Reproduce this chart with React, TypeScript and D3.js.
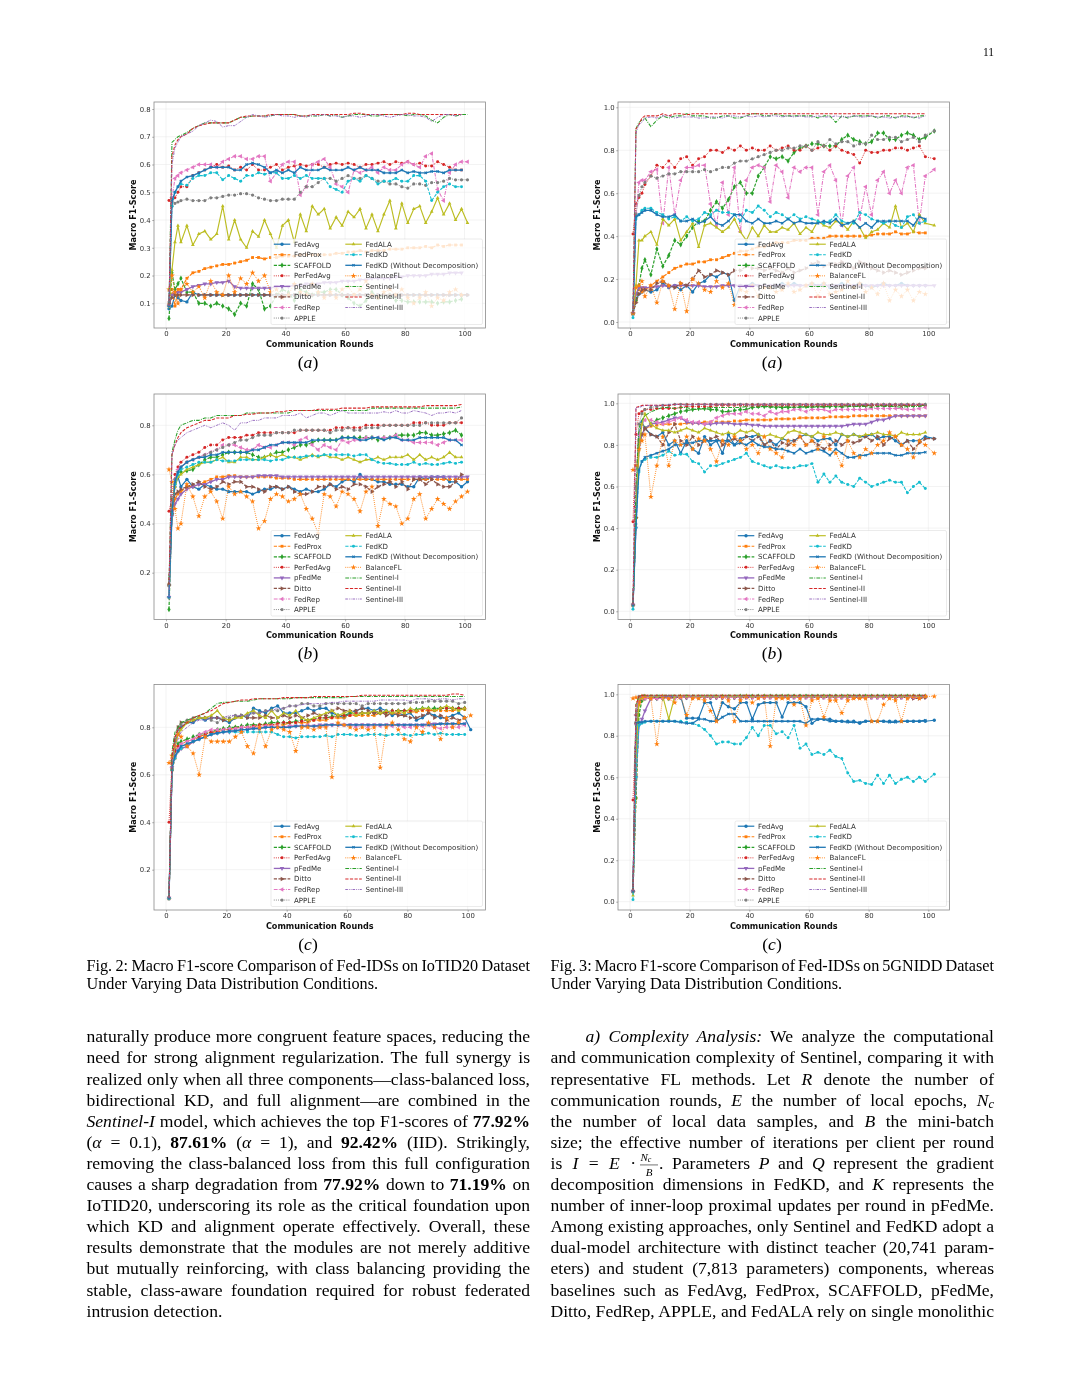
import React, { useEffect, useRef } from "react";
import * as d3 from "d3";

// ─── Shared categories ────────────────────────────────────────────────────────
const METHODS = ["FedAvg", "FedProx", "SCAFFOLD", "PerFedAvg", "pFedMe", "Ditto", "FedRep", "APPLE", "FedALA", "FedKD", "FedKD (Without Decomposition)", "BalanceFL", "Sentinel-I", "Sentinel-II", "Sentinel-III"];
const X_TICKS = [0, 20, 40, 60, 80, 100];
// rounds the values below were read at; the last one is replaced by each panel's final round
const ROUNDS = [1, 2, 3, 4, 5, 7, 9, 11, 13, 15, 17, 19, 21, 23, 25, 27, 29, 31, 33, 35, 37, 39, 41, 43, 45, 47, 49, 51, 53, 55, 57, 59, 61, 63, 65, 67, 69, 71, 73, 75, 77, 79, 81, 83, 85, 87, 89, 91, 93, 95, 97, 99, 101];

// ─── Fig. 2 (a) — values in percent ───────────────────────────────────────────
const a1FedAvg = [8,9,13,12,11, 10.5,14,13,13,13,13,13,13,13,13,13,13, 13,13,13,13,13,13,13,13,13,13,13,13, 13,13,13,13,13,13,13,13,13,13,13,13, 13,13,13,13,13,13,13,13,13,13,13,13];
const a1FedProx = [9.5,15,9,15,15, 19,21,21.5,22.5,23,23.5,24,24,24.5,25,25.5,26.5, 26.5,26,26.5,26.5,27,27,27,27.5,27.5,27.5,27.5,27.5, 27.5,28,28,28.5,28.5,29,28.5,29,29,29,29.5,29.5, 29.5,30,30,30,30.5,30,31,30.5,31,31,31];
const a1Scaffold = [4.5,21,15,17,19, 14,14,10,10,9,10,9,8,6,10,9,17, 15,8,9,13,15,14,11,15,14,13,14,14, 15,15,13,12,10,9,11,14,12,13,13,11, 11,10.5,10.5,10.5,10.5,10.5,10,10.5,10.5,11,11.5];
const a1PerFedAvg = [47,46.5,48,50,52, 52,56,57,58,59,60,59,59.5,58,59,58,60, 58,58,59,60,58,59,59.5,60,59.5,60,60,59, 60,60.5,60,60.5,60,59,60,60,60.5,61,60,61, 60.5,61,60,60.5,59.5,59.5,61,60,59,58,58];
const a1PFedMe = [9,13,14,14,14, 15,16,16.5,17,17,17.5,17.5,18,16,15.5,15.5,15.5, 15.5,15.5,15.5,16,16,16,16.5,16.5,17,17,17,17.5, 17.5,17.5,18,18,18,18.5,18.5,19,19,19,19,19.5, 19.5,20,20,20,20,20.5,20.5,20.5,21,21,21];
const a1Ditto = [10,12,13,13,13, 13,13,13,13,13,13,13,13,13,13,13,13, 13,13,13,13,13,13,13,13,13,13,13,13, 13,13,13,13,13,13,13,13,13,13,13,13, 13,13,13,13,13,13,13,13,13,13,13,13];
const a1FedRep = [9,48,55,56,57, 58,59,60,60,60,59,61,62,63,63,62,62, 63,63,54,57,60,61,61,49,52,60,61,62, 59,53,52,50,58,57,58,59,57,59,58,58, 60,61,60,59,63,64,51,47,57,60,61,61];
const a1Apple = [9,45,46,46.5,47, 47.5,47,47,47,48,48,48.5,49,49,49.5,49.5,49, 48,47.5,47,47,47.5,47.5,47.5,50,52,52,53.5,55, 55,54,55,56,55,55,56,55,54,54,53,53, 52,51.5,53,53,52.5,53.5,53.5,54,55,54.5,54.5,54.5];
const a1FedAla = [9,22,32,38,32, 38,31,35,36,33,35,45,33,40,33,30,36, 34,40,35,30,38,40,32,42,36,45,42,44, 37,41,38,43,41,44,37,42,36,42,47,37, 46,39,44,45,39,43,48,42,46,40,44,39];
const a1FedKd = [9,45,50,52,53, 52.5,55,56,56,57,57,54.5,56,55,54,56,56, 57,56.5,57,57,55,55,56,55,56,55,55,55, 52,51,50,54,55,54,56,55,53,54,54,55, 54,54,56,56,54,47,50,52,53,52,52];
const a1FedKdWd = [9,47,50,52,54, 55.5,56,57,58,59,59,59,59,58,58,60,60.5, 60,59,57,58,57,58,57,59,58,58,58,59, 58,58,58,59,58,59,58,58,58,57,57,57, 58,57,57.5,57,57,57.5,57.5,57,58,58,58];
const a1Balance = [15,20,14,10,15, 17,14,16,12,18,14,13,20,14,19,17,21, 18,20,14,15,12,13,17,14,13,17,14,12, 14,12,15,16,13,15,18,13,12,14,15,13, 15,12,10,12,14,9,12,11,14,15,13];
const a1Sentinel1 = [9,68,69,70,70.5, 71.5,73,74,75,75,75,75,75,76,77,77,77.5, 77.5,77.5,77.5,78,78,78,78,77.5,77.5,77.5,77.5,78, 77.5,78,77,77.5,78,78,78,77.5,77.5,78,78,78, 78,77.5,78,78,77.5,76,75,77,78,77.5,78,78];
const a1Sentinel2 = [9,63,67,69,70, 71,73,74,74.5,75,75,75,75,76,77,77.5,77.5, 77.5,77.5,78,78,78,78,78,77.5,77.5,78,78,78, 78,78,78,78,78.5,78.5,78,78,78,78,78,78, 78,78.5,78.5,78,78,78,78,78,78,78,78];
const a1Sentinel3 = [9,60,66,68,70, 71,72,74,75,76,75.5,73.5,74,74,75.5,77,78, 77.5,77,77.5,78,77.5,77.5,77,77.5,77,78,77.5,78, 77.5,77.5,77,77.5,77.5,77,77.5,78,78,77.5,77,77.5, 78,78,77.5,77.5,77,75.5,77,78,78,77.5,78];

// ─── Fig. 3 (a) ───────────────────────────────────────────────────────────────
const a2FedAvg = [4,10,13,14,15, 14,15,18,16,17,15,17,14,18,19,22,21, 23,22,10,17,17,18,17,17,16,17,18,17, 18,17,17,18,17,18,16,17,18,17,17,18, 17,16,17,18,17,17,18,17,17,17,17];
const a2FedProx = [4,10,15,14,15, 17,19,21,23,25,26,27,27,28,28,29,29, 30,31,32,33,33,34,35,35,36,37,37,37, 38,38,38,39,39,39,40,40,40,40,40,40, 40,40.5,41,41,41,42,41,41,42,41.5,41.5];
const a2Scaffold = [4,10,17,25,29, 22,34,26,31,38,36,40,44,47,47,52,56, 53,57,63,65,60,60,68,72,77,76,77,75, 79,81,82,83,83,82,82,82,85,87,85,84, 83,84,88,88,85,85,87,88,87,85,86,89];
const a2PerFedAvg = [41,55,58,60,64, 68,73,72,75,72,76,77,73,76,77,80,80, 79,81,80,82,80,81,80,80,82,80,81,82, 80,80,82,80,81,82,80,82,80,79,78,74, 80,79,79,80,80,81,81,80,81,82,77,76];
const a2PFedMe = [4,13,16,16,16, 16,16.5,17,16.5,17,17,17,17,17,16.5,16.5,16.5, 17,17,17,17,17,17,17,17,17,17,17,17, 17,17,17,17,17,17,17,17,17,17,17,17, 17,17,17,17,17,17,17,17,17,17,17,17];
const a2Ditto = [4,9,13,15,15, 15,18,19,17,16,18,17,20,24,21,22,24, 23,22,24,24,26,25,25,24,25,24,23,25, 23,24,25,27,28,26,27,27,28,26,25,28, 27,25,24,23,24,23,22,23,24,25,25];
const a2FedRep = [4,50,65,66,66, 70,71,46,72,50,66,72,72,73,73,55,45, 65,50,72,42,66,72,73,72,56,73,70,58, 72,70,72,72,50,70,73,66,45,68,72,48, 63,50,66,70,60,66,60,72,73,46,68,71];
const a2Apple = [4,50,59,63,65, 68,67,68,69,69,70,70,70,70,71,70,71, 72,72,74,75,75,76,77,78,79,80,80,81, 81,82,82,80,84,82,85,83,84,84,82,83, 83,87,85,85,86,86,84,85,86,84,87,89];
const a2FedAla = [4,17,38,38,40, 42,36,48,45,48,38,42,46,35,45,46,44, 42,44,48,42,38,44,40,45,42,42,44,43, 46,41,44,42,47,45,44,47,46,43,47,44, 39,42,43,46,44,54,44,46,42,50,46,45];
const a2FedKd = [2,48,50,52,53, 53,51,50,48,49,47,49,47,48,51,50,52, 51,51,50,47,52,51,54,52,49,51,50,48, 50,48,49,48,47,46,47,50,47,46,46,51, 50,48,47,46,47,45,44,49,50,46,47];
const a2FedKdWd = [4,49,50,51,52, 52,50,49,49,50,47,47,48,46,47,49,46, 45,47,50,50,47,46,48,46,46,47,46,48, 46,47,46,46,46,47,46,48,45,46,47,44, 46,44,47,47,47,47,47,47,45,49,48];
const a2Balance = [4,16,17,19,12, 17,9,19,17,6,18,5,20,18,15,14,19, 16,18,8,15,14,17,12,16,16,14,15,18, 14,15,17,18,12,18,13,14,15,19,16,18, 14,16,13,18,10,15,12,15,10,14,13];
const a2Sentinel1 = [4,90,93,94,95, 91,94,96,95,96,96,97,96,96,96,95,95, 96,96,95,95,96,97,97,96,96,97,96,96, 96,96,96,96,95,96,96,93,96,95,96,96, 96,96,95,96,96,95,96,96,95,96,96];
const a2Sentinel2 = [4,90,92,95,96, 96,96,97,96,97,97,96.5,97,97,97,97,97, 97,97,97,97,97,97,97,97,97,97,97,97, 97,97,97,97,97,97,97,97,97,97,97,97, 97,97,97,97,97,97,97,97,97,97,97];
const a2Sentinel3 = [4,88,92,93,95, 95.5,95,96,96,95,95.5,95.5,95.5,95,95,95.5,95.5, 95,96,96,95.5,96,95.5,96,95.5,96,96,95.5,96, 95.5,96,95.5,95.5,96,95.5,95.5,96,95.5,95.5,96,95.5, 95.5,96,95.5,95.5,95,95.5,95.5,95.5,95.5,95,96];

// ─── Fig. 2 (b) ───────────────────────────────────────────────────────────────
const b1FedAvg = [15,44,55,59,55, 58,55,54,56,55,54,54,53,53,53,53,52, 53,54,54,55,54,55,54,53,54,53,53,54, 56,55,57,58,57,60,58,58,57,57,56,56, 56,55,55,59,58,59,59,59,57,57,55,57];
const b1FedProx = [15,44,50,52,53, 55,55,56,57,58,59,59,59.5,59.5,59,59,59, 59,59,59,58.5,58.5,58.5,58,58,58,58,58,58, 58,58,58,58,58,58,58,58,58,58,58,58, 58,58,58,58,58,58,58,58,58,58,58,58];
const b1Scaffold = [5,44,56,60,61, 61.5,62,64,66,67,67,68,69,69,69,69,68, 67,67,68,69,69,70,71,72,72,73,74,74, 74,74,75,75,75,75,75,75,74,75,75,76, 76,76,76,77,77,76,76,76.5,77,78,76];
const b1PerFedAvg = [45,50,60,63,65, 67,68,69,71,72,72,74,75,75,75,76,76, 77,77,77,77,77,77,77,78,78,78,78,78, 78,79,79,79,79,79,80,80,80,80,80,80, 80,80,81,81,81,80,80,80,81,81,81];
const b1PFedMe = [10,43,48,50,52, 54,55,56,56,57,58,58,59,59,59,59,59, 59.5,59.5,59.5,59.5,59,59,59,59,59,59,59,59, 59,59,59,59,59,59,59,59,59,59,59,59, 59,59,59,59,59,59,59,59,59,59,59,59];
const b1Ditto = [15,44,52,53,54, 55,56,57,55,54,55,57,56,57,57,55,55, 54,53,55,55,54,55,53,52,52,53,55,55, 56,54,55,54,56,56,55,53,55,56,57,55, 57,54,58,58,56,58,56,55,55,57,60];
const b1FedRep = [10,47,58,62,63, 65,66,67,68,69,70,72,72,72,71,70,70, 72,71,71,72,73,73,72,74,75,72,70,72, 71,70,74,73,74,74,75,75,75,75,75,76, 74,74,73,73,73,73,72,73,74,74,74];
const b1Apple = [15,47,58,61,63, 65,66,67,68,69,70,71,72,73,74,74,75, 76,76,76,77,77,77,78,78,78,78,78,78, 77,78,78,79,78,78,79,79,79,80,80,80, 80,80,80,80,81,81,81,81,81,81,83];
const b1FedAla = [10,47,55,59,60, 62,63,64,65,65,66,67,65,65,67,67,66, 66,67,68,67,68,67,67,66,67,68,67,68, 67,67,66,67,66,65,66,66,67,66,67,67, 67,68,66,68,66,67,66,67,69,67,67];
const b1FedKd = [10,44,56,60,62, 63,64,65,65,65,66,65.5,65.5,65.5,66,66,66, 66,66,65.5,66,66,67,67,67,67.5,67.5,67.5,68, 68,68,68,68,67.5,68,68,66,65,64.5,64.5,64, 64,64,65,64,64.5,64,64,64.5,65,64.5,65];
const b1FedKdWd = [10,45,57,61,63, 65,66,67,67,68,68,69,69,69,69,69,70, 70,71,72,72,73,73,73,73,73,74,74,74, 74,74,75,75,75,74,74,75,75,74,75,75, 74,74,74,75,75,75,75,75,74,74,72];
const b1Balance = [62,57,46,38,40, 56,51,43,51,53,49,42,55,52,53,51,49, 38,41,50,52,51,49,50,52,46,42,36,52, 51,47,53,52,50,45,53,55,39,50,48,47, 40,42,50,52,42,46,50,48,46,49,51,53];
const b1Sentinel1 = [15,69,74,78,80, 81,82,82,83,83,84,84,84,84,84,85,85, 85,85,85,85,85,85,86,86,86,86,86,86, 86,86,86,86,86,86,86,87,87,87,87,87, 87,87,87,87,87,87,87,87,87,87,87.5];
const b1Sentinel2 = [15,68,72,75,77, 79,80,81,82,82,83,83,83,84,84,84.5,84.5, 85,85,85,85.5,85.5,86,86,86,86,86,86.5,86.5, 86.5,86.5,87,87,87,87,87,87.5,87.5,87.5,87.5,87.5, 87.5,87.5,87.5,87.5,88,88,88,88,88,88,88.5];
const b1Sentinel3 = [10,68,72,74,75, 77,78,79,80,79,80,81,80,78,81,81,82, 82,83,83,83,84,84,84,85,83,84,85,85, 84,85,86,85,85,85,85,85,85,85.5,85,86, 85,85,86,85.5,85,84,85,85,85.5,85,86];

// ─── Fig. 3 (b) ───────────────────────────────────────────────────────────────
const b2FedAvg = [3,45,85,91,88, 85,84,86,80,82,76,82,78,76,84,80,82, 76,85,80,83,84,84,85,80,82,80,83,82, 82,84,85,84,82,83,83,80,85,84,85,84, 84,85,83,84,84,82,80,82,82,82,84,83];
const b2FedProx = [3,45,80,85,88, 89,89.5,90,90,90,90,90.5,90.5,90.5,91,91,91, 91,91,91.5,91.5,92,92,92,92,92,92.5,92.5,92.5, 92.5,93,93,93,93,93,93.5,93.5,93.5,93.5,94,94, 94,94,94,94,94,94,94,94,94,94,94];
const b2Scaffold = [3,45,80,85,88, 90,92,93,94,95,96,96.5,97,97.5,97.5,97,97, 96,96,96.5,97,97,98,98.5,98.5,98.5,98,98,98, 98,98,98.5,98.5,98.5,98.5,98.5,98.5,98.5,99,99,99, 99,99,99,99,99,99,99,99,99,99,99];
const b2PerFedAvg = [43,85,95,96,97, 97,97.5,97.5,97.5,97.5,98,98.5,98.5,98.5,98.5,98.5,99, 99,99,99,99,99,99,99,99,99,99,99,99, 99,99,99,99,99,99,99,99,99,99,99,99, 99,99,99,99,99,99,99,99,99,99,99];
const b2PFedMe = [3,40,78,85,88, 90,90.5,91,92,93,93,91,90.5,90.5,90,90,90.5, 90.5,90.5,90,90,90,89.5,89.5,89,89,89,89,89, 89,89,89,89,89,89,89,89,89,89.5,90,90, 90,91,92,92,93,94,94,94,94,94,94];
const b2Ditto = [3,45,82,85,88, 85,84,80,86,90,82,80,84,80,82,83,84, 80,82,83,81,84,82,84,80,82,78,81,80, 82,84,80,82,80,78,80,82,80,82,81,82, 84,82,84,80,83,84,80,82,78,81,83,83];
const b2FedRep = [3,50,85,90,92, 92,91,90,91,92,93,92,91,91,90,91,93, 94,95,95,95,96,95,95,94,96,95,96,96, 97,97,96,97,97,97,96,97,97,97,97,97, 97,97.5,97.5,97.5,97.5,97.5,97.5,97,97,97.5,98];
const b2Apple = [3,60,90,95,97, 98,98.5,99,99,99.5,99.5,99.5,99.5,99.5,99.5,99.5,99.5, 99.5,99.5,99.5,99.5,99.5,99.5,99.5,99.5,99.5,99.5,99.5,99.5, 99.5,99.5,99.5,99.5,99.5,99.5,99.5,99.5,99.5,99.5,99.5,99.5, 99.5,99.5,99.5,99.5,99.5,99.5,99.5,99.5,99.5,99.5,99.5];
const b2FedAla = [3,45,78,90,95, 90,88,87,87,86,87,88,87,86,88,87,86, 85,86,85,87,86,87,85,84,85,84,83,86, 87,86,85,84,86,85,85,86,85,84,85,84, 85,85,86,85,85,84,86,85,85,85,86];
const b2FedKd = [1,40,67,72,73, 74,74,75,77,75,75.5,75.5,72,71,67,70,70, 71,72,73,74,76,72,71,70,69,70,69,69, 69,70,70,71,62,66,62,65,62,61,60,64, 62,60,61,62,63,62,62,57,60,62,59];
const b2FedKdWd = [3,42,68,72,74, 75,76,77,78,80,80,81,81,82,82,82,82, 82,82,80,81,80,82,80,79,79,78,78,77, 76,78,76,77,78,77,75,78,76,74,74,75, 75,76,76,76,76,75,75,76,76,76,76.5];
const b2Balance = [68,70,78,82,85, 55,70,84,70,82,80,84,78,83,82,78,72, 82,80,84,82,78,80,76,84,78,76,74,82, 80,84,80,82,78,84,78,76,70,82,76,74, 78,76,80,82,86,84,80,78,74,82,80,76];
const b2Sentinel1 = [3,60,88,92,94, 96,97,98,98,97.5,98,98,97,97,97.5,98,98, 98,98,98,98,98.5,98,98,98.5,98,98.5,98,98.5, 98,98.5,98,98,98.5,98,98.5,98.5,98,98.5,98.5,98.5, 98.5,98,98.5,98.5,98.5,98.5,98,98.5,98.5,98.5,99];
const b2Sentinel2 = [3,98,98.5,99,99, 99,99,99,99,99.5,99.5,99.5,99.5,99.5,99.5,99.5,99.5, 99.5,99.5,99.5,99.5,99.5,99.5,99.5,99.5,99.5,99.5,99.5,99.5, 99.5,99.5,99.5,99.5,99.5,99.5,99.5,99.5,99.5,99.5,99.5,99.5, 99.5,99.5,99.5,99.5,99.5,99.5,99.5,99.5,99.5,99.5,99.5];
const b2Sentinel3 = [3,98,98,98.5,99, 99,99,99,99.5,99.5,99.5,99,99.5,99.5,99.5,99.5,99.5, 99.5,99.5,99.5,99.5,99.5,99,99.5,99.5,99.5,99.5,99.5,99.5, 99.5,99.5,99.5,99.5,99.5,99.5,99.5,99.5,99.5,99.5,99,99.5, 99.5,99.5,99.5,99.5,99.5,99.5,99.5,99.5,99.5,99.5,99.5];

// ─── Fig. 2 (c) ───────────────────────────────────────────────────────────────
const c1FedAvg = [8,62,74,77,80, 82,82,84,83,84,84,83,82,84,85,84,88, 87,86,88,89,86,86,86,87,88,87,88,88, 86,85,84,86,87,88,88,87,88,87,85,86, 85,86,83,84,86,85,84,84,85,86,84,79];
const c1FedProx = [8,62,67,70,71, 72,74,76,77,78,78,79,79,80,80,80,80, 81,81,81,81,81,82,82,82,82,83,83,83, 84,84,84,85,85,85,85,85,86,86,86,86, 86,86.5,86.5,87,87,87,87,87,87,87.5,87.5];
const c1Scaffold = [8,62,70,73,74, 75,76,77,77.5,78,79,79.5,80,80,80.5,81,81, 81,81.5,82,82,82,82,82.5,83,83,83.5,84,84, 84.5,85,85,86,86,86,86,86,86,86.5,87,87, 87,87,87.5,88,88,88,88,88,88,88,88];
const c1PerFedAvg = [40,65,70,72,73, 74,75,76,77,78,78,79,79,79.5,80,80,80.5, 81,81,81,81.5,82,82,82,82.5,83,83,84,84, 84,85,85,85,86,86,86,86,86,86.5,87,87, 87,87,87,87.5,87.5,87,88,88,88,88,88];
const c1PFedMe = [8,63,68,70,71, 72,74,75,76,77,77.5,78,78,78.5,79,79,79.5, 79.5,80,80,80,80,80.5,80.5,80.5,80.5,80.5,81,81, 81,81,81,81,81,81,81,81,81,81,81,81, 81,81,81,81,81.5,81.5,81.5,81.5,81.5,81.5,81.5];
const c1Ditto = [8,65,75,80,82, 82,83,84,84,84,84,83,83,84,85,84,84, 84,85,84,84,85,84,85,84,85,86,85,85, 87,88,87,87,87,88,87,86,87,85,86,85, 85,84,84,85,86,84,85,83,84,83,84];
const c1FedRep = [8,63,68,71,73, 74,75,77,78,79,79,79,79.5,79.5,80,80,80, 80,80.5,80.5,80.5,80,80.5,80.5,80.5,81,80.5,80,80.5, 81,81,81,81,80,81,80,81,80.5,81,80.5,81, 80,80,80.5,80.5,81,80,79.5,80,80,80,81];
const c1Apple = [8,66,75,79,81, 83,84,84,84,83,82,84,84,85,85,85,86, 86,87,87,87,88,89,89,90,90,89,89,90, 90,90,90,90,90,89,90,90,90,90,90,90, 90,90.5,90.5,90.5,91,91,91,91,91,90,90.5];
const c1FedAla = [8,63,72,77,79, 82,83,84,84,85,87,84,83,84,84,86,87, 85,84,87,84,86,85,87,84,83,84,85,86, 87,85,86,87,85,86,86,87,86,87,86,87, 86,88,87,88,88,87,88,89,88,87,88];
const c1FedKd = [8,62,67,70,71, 73,74,75,76,77,77.5,78,78,78,78,78,78, 78,78,78,77,76,76,75.5,76,76,76,76,76.5, 76,77,77,77,76.5,76.5,77,77,77,76.5,77,77, 77,76.5,77,77,77.5,77,77.5,77,77,77,77];
const c1FedKdWd = [8,63,68,70,72, 73,74,75,76,77,77.5,78,78.5,78.5,79,79,79.5, 79.5,80,80,80,80,80,80.5,80.5,80.5,80.5,80.5,81, 81,81,81,81,81,81,81,81,81,81,81,81, 81,81,81,81,81,81,81.5,81.5,81.5,81.5,81.5];
const c1Balance = [65,68,72,77,76, 72,69,60,76,74,74,74,74,76,78,72,69, 80,72,79,80,79,78,70,80,80,79,80,80, 59,82,81,80,79,80,79,80,63,80,82,79, 75,74,80,78,82,80,75,84,80,82,84,85];
const c1Sentinel1 = [8,70,78,80,82, 83,84,85,86,88,90,90.5,90.5,91,91,91,91.5, 92,92,92,92,92,92,92.5,92.5,92.5,92.5,92.5,92.5, 92.5,92.5,92.5,93,93,93,93,93,93,93,93,93, 93,93,93,93,93,93,93,93,93,93,93];
const c1Sentinel2 = [8,68,76,79,80, 82,84,85,86,87,88.5,90,90.5,91,91.5,91.5,92, 92,92,92,92,92.5,92.5,92.5,92.5,92.5,93,93,93, 93,93,93,93,93,93.5,93.5,93.5,93.5,93.5,93.5,93.5, 93.5,93.5,93.5,93.5,93.5,93.5,93.5,93.5,94,94,93.5];
const c1Sentinel3 = [8,65,72,75,78, 80,82,83,83,84,84,84,85,85,85,85,86, 86,87,87,88,88,89,89,89.5,90,90,90,90, 90.5,90.5,91,91,91,91,91,91,91.5,91.5,91.5,91.5, 91.5,91,92,92,92,91.5,92,92,91.5,92,92];

// ─── Fig. 3 (c) ───────────────────────────────────────────────────────────────
const c2FedAvg = [5,74,98,99,99, 99,99,99,99,99,99,88.5,88.5,88.5,96,96,88, 96,94,93,96,96,88,95,96,96,96,89,96, 96,96,94,86,88,88,88,87,87,87,87,86, 87,87,87,87,87,87,87,87,87,87,87,87.5];
const c2FedProx = [5,50,95,97,98, 98,98,98.5,98.5,98.5,98.5,98.5,98.5,98.5,98.5,99,99, 99,99,99,99,99,99,99,99,99,99,99,99, 99,99,99,99,99,99,99,99,99,99,99,99, 99,99,99,99,99,99,99,99,99,99,99];
const c2Scaffold = [5,50,90,97,98, 98,98,98,98,98.5,98.5,98.5,98.5,98.5,98.5,98.5,98.5, 98.5,98.5,98.5,99,99,99,99,99,99,99,99,99, 99,99,99,99,99,99,99,99,99,99,99,99, 99,99,99,99,99,99,99,99,99,99,99];
const c2PerFedAvg = [49,86,97,98,98, 98,98,98,98,98.5,98.5,98.5,98.5,98.5,98.5,98.5,98.5, 98.5,98.5,98.5,98.5,98.5,98.5,98.5,98.5,98.5,98.5,98.5,98.5, 98.5,98.5,98.5,98.5,98.5,98.5,98.5,98.5,98.5,98.5,98.5,98.5, 98.5,98.5,98.5,98.5,98.5,98.5,98.5,98.5,98.5,98.5,99];
const c2PFedMe = [5,60,85,88,92, 98,98,98.5,98.5,98.5,98.5,98.5,98.5,98.5,98.5,98.5,98.5, 98.5,98.5,98.5,98.5,98.5,98.5,98.5,98.5,98.5,98.5,98.5,98.5, 98.5,98.5,98.5,98.5,98.5,98.5,98.5,98.5,98.5,98.5,98.5,98.5, 98.5,98.5,98.5,98.5,98.5,98.5,98.5,98.5,98.5,98.5,98.5];
const c2Ditto = [5,86,97,98,99, 98.5,98.5,98.5,98.5,98.5,98.5,98.5,98.5,98.5,98.5,98.5,98.5, 98.5,98.5,98.5,98.5,98.5,98.5,98.5,98.5,98.5,98.5,98.5,98.5, 98.5,98.5,98.5,98.5,98.5,98.5,98.5,98.5,98.5,98.5,98.5,98.5, 98.5,98.5,98.5,98.5,98.5,98.5,98.5,98.5,98,98,98.5];
const c2FedRep = [5,90,98,98,98, 98,98,98,98,98,98.5,98.5,98.5,98.5,98.5,98.5,98.5, 98.5,98.5,98.5,98.5,98.5,98.5,98.5,98.5,98.5,98.5,98.5,98.5, 98.5,98.5,98.5,98.5,98.5,98.5,98.5,98.5,98.5,98.5,98.5,98.5, 98.5,98.5,98.5,98.5,98.5,98.5,98.5,98.5,98.5,98.5,99];
const c2Apple = [5,90,99,99,99, 99,99,99,99,99,99,99,99,99,99,99,99, 99,99,99,99,99,99,99,99,99,99,99,99, 99,99,99,99,99,99,99,99,99,99,99,99, 99,99,99,99,99,99,99,99,99,99,99];
const c2FedAla = [3,70,98,98,99, 99,99,99,88,99,99,99,99,99,99,99,99, 99,99,99,99,99,99,99,99,99,99,99,99, 99,99,99,99,99,99,99,99,99,99,99,99, 99,99,99,99,99,99,99,99,99,99,99];
const c2FedKd = [1,60,85,86,86.5, 87,87,87,87,87,87,86.5,86,85,83,80,76, 77,77,76,76,79,84,80,85,85,81,82,79, 85,74,76,71,72,71,73,70,69,62,58,58.5, 57,56.5,61,57,61,57,59,60,58,60,58,61.5];
const c2FedKdWd = [5,86,86.5,86.5,87, 87,87,87,87,87,86.5,86,86,88,88,87,87, 89,90.5,90.5,87,87,87,87,87,87,87,87,87, 87,87,86,88,88,88,87,87,87,86.5,86.5,86.5, 87,87,87,87,86.5,86.5,87,87,87,87,87.5];
const c2Balance = [98,98.5,96,99,99, 98,76,99,98,96,99,90,98,98,97,92,87, 99,97,87,97,99,96,98,99,75,98,98,98, 95,98,85,97,98,89,97,97,91,97,98,98, 98,87,87,95,98,97,87,98,99,98,99,99];
const c2Sentinel1 = [5,95,99,99.5,99.5, 99.5,99.5,99.5,99.5,99.5,99.5,99.5,99.5,99.5,99.5,99.5,99.5, 99.5,99.5,99.5,99.5,99.5,99.5,99.5,99.5,99.5,99.5,99.5,99.5, 99.5,99.5,99.5,99.5,99.5,99.5,99.5,99.5,99.5,99.5,99.5,99.5, 99.5,99.5,99.5,99.5,99.5,99.5,99.5,99.5,99.5,99.5,99.5];
const c2Sentinel2 = [5,95,99,99.5,99.5, 99.5,99.5,99.5,99.5,99.5,99.5,99.5,99.5,99.5,99.5,99.5,99.5, 99.5,99.5,99.5,99.5,99.5,99.5,99.5,99.5,99.5,99.5,99.5,99.5, 99.5,99.5,99.5,99.5,99.5,99.5,99.5,99.5,99.5,99.5,99.5,99.5, 99.5,99.5,99.5,99.5,99.5,99.5,99.5,99.5,99.5,99.5,99.5];
const c2Sentinel3 = [5,92,98,99,99, 99,99,99,99,99,99,99,99,99,99,99,99, 99,99,99,99,99,99,99,99,99,99,99,99, 99,99,99,99,99,99,99,99,99,99,99,99, 99,99,99,99,99,99,99,99,99,99,99];

const seriesA1 = [a1FedAvg, a1FedProx, a1Scaffold, a1PerFedAvg, a1PFedMe, a1Ditto, a1FedRep, a1Apple, a1FedAla, a1FedKd, a1FedKdWd, a1Balance, a1Sentinel1, a1Sentinel2, a1Sentinel3];
const seriesA2 = [a2FedAvg, a2FedProx, a2Scaffold, a2PerFedAvg, a2PFedMe, a2Ditto, a2FedRep, a2Apple, a2FedAla, a2FedKd, a2FedKdWd, a2Balance, a2Sentinel1, a2Sentinel2, a2Sentinel3];
const seriesB1 = [b1FedAvg, b1FedProx, b1Scaffold, b1PerFedAvg, b1PFedMe, b1Ditto, b1FedRep, b1Apple, b1FedAla, b1FedKd, b1FedKdWd, b1Balance, b1Sentinel1, b1Sentinel2, b1Sentinel3];
const seriesB2 = [b2FedAvg, b2FedProx, b2Scaffold, b2PerFedAvg, b2PFedMe, b2Ditto, b2FedRep, b2Apple, b2FedAla, b2FedKd, b2FedKdWd, b2Balance, b2Sentinel1, b2Sentinel2, b2Sentinel3];
const seriesC1 = [c1FedAvg, c1FedProx, c1Scaffold, c1PerFedAvg, c1PFedMe, c1Ditto, c1FedRep, c1Apple, c1FedAla, c1FedKd, c1FedKdWd, c1Balance, c1Sentinel1, c1Sentinel2, c1Sentinel3];
const seriesC2 = [c2FedAvg, c2FedProx, c2Scaffold, c2PerFedAvg, c2PFedMe, c2Ditto, c2FedRep, c2Apple, c2FedAla, c2FedKd, c2FedKdWd, c2Balance, c2Sentinel1, c2Sentinel2, c2Sentinel3];

const TICKS_A1 = [0.1, 0.2, 0.3, 0.4, 0.5, 0.6, 0.7, 0.8];
const TICKS_UNIT = [0, 0.2, 0.4, 0.6, 0.8, 1];
const TICKS_LEFT = [0.2, 0.4, 0.6, 0.8];

// ─── Page text ────────────────────────────────────────────────────────────────
const CAPTION_LEFT = ["Fig. 2: Macro F1-score Comparison of Fed-IDSs on IoTID20 Dataset", "Under Varying Data Distribution Conditions."];
const CAPTION_RIGHT = ["Fig. 3: Macro F1-score Comparison of Fed-IDSs on 5GNIDD Dataset", "Under Varying Data Distribution Conditions."];
const BODY_LEFT = [
  "naturally produce more congruent feature spaces, reducing the",
  "need for strong alignment regularization. The full synergy is",
  "realized only when all three components—class-balanced loss,",
  "bidirectional KD, and full alignment—are combined in the",
  "_Sentinel-I_ model, which achieves the top F1-scores of *77.92%*",
  "(_α_ = 0.1), *87.61%* (_α_ = 1), and *92.42%* (IID). Strikingly,",
  "removing the class-balanced loss from this full configuration",
  "causes a sharp degradation from *77.92%* down to *71.19%* on",
  "IoTID20, underscoring its role as the critical foundation upon",
  "which KD and alignment operate effectively. Overall, these",
  "results demonstrate that the modules are not merely additive",
  "but mutually reinforcing, with class balancing providing the",
  "stable, class-aware foundation required for robust federated",
  "intrusion detection.",
];
const BODY_RIGHT = [
  "_a) Complexity Analysis:_ We analyze the computational",
  "and communication complexity of Sentinel, comparing it with",
  "representative FL methods. Let _R_ denote the number of",
  "communication rounds, _E_ the number of local epochs, _N_~c~",
  "the number of local data samples, and _B_ the mini-batch",
  "size; the effective number of iterations per client per round",
  "",
  "decomposition dimensions in FedKD, and _K_ represents the",
  "number of inner-loop proximal updates per round in pFedMe.",
  "Among existing approaches, only Sentinel and FedKD adopt a",
  "dual-model architecture with distinct teacher (20,741 param-",
  "eters) and student (7,813 parameters) components, whereas",
  "baselines such as FedAvg, FedProx, SCAFFOLD, pFedMe,",
  "Ditto, FedRep, APPLE, and FedALA rely on single monolithic",
];

// ─── Design tokens ────────────────────────────────────────────────────────────
const COLORS = ["#1f77b4", "#ff7f0e", "#2ca02c", "#d62728", "#9467bd", "#8c564b", "#e377c2", "#7f7f7f", "#bcbd22", "#17becf", "#1f77b4", "#ff7f0e", "#2ca02c", "#d62728", "#9467bd"];
const DASHES = ["", "3.2,1.4", "3.2,1.4", "0.9,1.2", "", "3.2,1.4", "3.8,1.2,0.9,1.2", "0.9,1.2", "", "3.2,1.4", "", "0.9,1.2", "3.8,1.2,0.9,1.2", "3.2,1.4", "2.6,1,0.8,1,0.8,1"];
const SYMBOLS = [d3.symbolCircle, d3.symbolSquare, d3.symbolDiamond, d3.symbolCircle, d3.symbolTriangle, d3.symbolTriangle, d3.symbolTriangle, d3.symbolCircle, d3.symbolTriangle, d3.symbolCircle, d3.symbolCross, d3.symbolStar, null, null, null];
const ROTATE = [0, 0, 0, 0, 180, 90, -90, 0, 0, 0, 45, 0, 0, 0, 0];
const MARKER_SIZE = [9, 8, 9, 7, 9, 9, 9, 8, 6, 7, 6, 10, 0, 0, 0];
const LINE_WIDTH = [1.2, 1.2, 1.2, 1, 1.3, 1.2, 1.05, 1, 1.15, 1.05, 1.3, 0.95, 1.05, 1.05, 0.95];
const CHART_FONT = "'DejaVu Sans', sans-serif";
const PAGE_FONT = "'Liberation Serif', serif";
const COL_RIGHT = 464;

const PANELS = [
  { series: seriesA1, ticks: TICKS_A1, dx: 0, top: 102, bottom: 328, x100: 464.5, last: 101, yHi: [0.8, 109], yLo: [0.1, 303.3] },
  { series: seriesA2, ticks: TICKS_UNIT, dx: COL_RIGHT, top: 102, bottom: 328, x100: 464.3, last: 102, yHi: [1, 107.3], yLo: [0, 322] },
  { series: seriesB1, ticks: TICKS_LEFT, dx: 0, top: 394, bottom: 619.5, x100: 464.5, last: 101, yHi: [0.8, 425.3], yLo: [0.2, 572.7] },
  { series: seriesB2, ticks: TICKS_UNIT, dx: COL_RIGHT, top: 394, bottom: 619.5, x100: 464.3, last: 102, yHi: [1, 403.3], yLo: [0, 611.3] },
  { series: seriesC1, ticks: TICKS_LEFT, dx: 0, top: 684.5, bottom: 910, x100: 467.7, last: 101, yHi: [0.8, 727.3], yLo: [0.2, 869.7] },
  { series: seriesC2, ticks: TICKS_UNIT, dx: COL_RIGHT, top: 684.5, bottom: 910, x100: 464.3, last: 102, yHi: [1, 694.3], yLo: [0, 901.7] },
];

function drawPanel(root: d3.Selection<SVGGElement, unknown, null, undefined>, panel: (typeof PANELS)[number]) {
  const left = 154 + panel.dx;
  const right = 485.5 + panel.dx;
  const { top, bottom } = panel;
  const g = root.append("g").attr("filter", "url(#soft)");

  const x = d3.scaleLinear().domain([0, 100]).range([166 + panel.dx, panel.x100 + panel.dx]);
  const y = d3.scaleLinear().domain([panel.yLo[0], panel.yHi[0]]).range([panel.yLo[1], panel.yHi[1]]);

  // background + grid
  g.append("rect").attr("x", left).attr("y", top).attr("width", right - left).attr("height", bottom - top).attr("fill", "#fff");
  g.selectAll("line.gx").data(X_TICKS).join("line").attr("x1", (d) => x(d)).attr("x2", (d) => x(d)).attr("y1", top).attr("y2", bottom).attr("stroke", "#e6e6e6").attr("stroke-width", 0.5);
  g.selectAll("line.gy").data(panel.ticks).join("line").attr("x1", left).attr("x2", right).attr("y1", (d) => y(d)).attr("y2", (d) => y(d)).attr("stroke", "#e6e6e6").attr("stroke-width", 0.5);

  // series, in legend order so the Sentinel lines sit on top
  const rounds = ROUNDS.map((r, i) => (i === ROUNDS.length - 1 ? panel.last : r));
  panel.series.forEach((values, s) => {
    const line = d3.line<number>().x((_, i) => x(rounds[i])).y((v) => y(v / 100));
    g.append("path").attr("d", line(values)).attr("fill", "none").attr("stroke", COLORS[s]).attr("stroke-width", LINE_WIDTH[s]).attr("stroke-dasharray", DASHES[s]).attr("stroke-linejoin", "round");
    const type = SYMBOLS[s];
    if (type) {
      const path = d3.symbol().type(type).size(MARKER_SIZE[s])();
      g.selectAll(null).data(values).join("path").attr("d", path).attr("fill", COLORS[s]).attr("transform", (v, i) => `translate(${x(rounds[i])},${y(v / 100)}) rotate(${ROTATE[s]})`);
    }
  });

  // frame and axes
  g.append("rect").attr("x", left).attr("y", top).attr("width", right - left).attr("height", bottom - top).attr("fill", "none").attr("stroke", "#8a8a8a").attr("stroke-width", 0.8);
  const xAxis = g.append("g").attr("transform", `translate(0,${bottom})`).call(d3.axisBottom(x).tickValues(X_TICKS).tickFormat(d3.format("d")).tickSize(1.8).tickPadding(1.5));
  const yAxis = g.append("g").attr("transform", `translate(${left},0)`).call(d3.axisLeft(y).tickValues(panel.ticks).tickFormat(d3.format(".1f")).tickSize(1.8).tickPadding(1.5));
  [xAxis, yAxis].forEach((a) => {
    a.select(".domain").remove();
    a.selectAll("line").attr("stroke", "#666").attr("stroke-width", 0.5);
    a.selectAll("text").attr("fill", "#333").attr("font-size", 6.9).attr("font-family", CHART_FONT);
  });

  g.append("text").attr("x", (left + right) / 2).attr("y", bottom + 18.5).attr("text-anchor", "middle").attr("font-family", CHART_FONT).attr("font-weight", "bold").attr("font-size", 8.1).attr("fill", "#111").text("Communication Rounds");
  g.append("text").attr("transform", `translate(${left - 18},${(top + bottom) / 2}) rotate(-90)`).attr("text-anchor", "middle").attr("font-family", CHART_FONT).attr("font-weight", "bold").attr("font-size", 8.1).attr("fill", "#111").text("Macro F1-Score");

  // legend
  const boxRight = right - 3;
  const boxBottom = bottom - 3.5;
  const boxLeft = boxRight - 211.5;
  const boxTop = boxBottom - 85.5;
  g.append("rect").attr("x", boxLeft).attr("y", boxTop).attr("width", boxRight - boxLeft).attr("height", boxBottom - boxTop).attr("rx", 1.5).attr("fill", "#fff").attr("fill-opacity", 0.8).attr("stroke", "#ccc").attr("stroke-opacity", 0.8).attr("stroke-width", 0.5);
  const col2 = (METHODS.length + 1) / 2;
  METHODS.forEach((name, i) => {
    const col = i < col2 ? 0 : 1;
    const row = col === 0 ? i : i - col2;
    const lx = boxLeft + 2.8 + col * 71.5;
    const ly = boxTop + 5.2 + row * 10.55;
    g.append("line").attr("x1", lx).attr("x2", lx + 16.5).attr("y1", ly).attr("y2", ly).attr("stroke", COLORS[i]).attr("stroke-width", LINE_WIDTH[i]).attr("stroke-dasharray", DASHES[i]);
    const type = SYMBOLS[i];
    if (type) {
      g.append("path").attr("d", d3.symbol().type(type).size(MARKER_SIZE[i])()).attr("fill", COLORS[i]).attr("transform", `translate(${lx + 8.2},${ly}) rotate(${ROTATE[i]})`);
    }
    g.append("text").attr("x", lx + 20.2).attr("y", ly + 2.5).attr("font-family", CHART_FONT).attr("font-size", 7.05).attr("fill", "#333").text(name);
  });
}

// *bold*, _italic_, ~subscript~
function runs(line: string) {
  return line.split(/(\*[^*]+\*|_[^_]+_|~[^~]+~)/).filter(Boolean).map((part, i) => {
    const body = part.slice(1, -1);
    if (part[0] === "*") return <tspan key={i} fontWeight="bold">{body}</tspan>;
    if (part[0] === "_") return <tspan key={i} fontStyle="italic">{body}</tspan>;
    if (part[0] === "~") return <tspan key={i} fontStyle="italic" fontSize={12.5} dy={2.6}>{body}</tspan>;
    return <tspan key={i}>{part}</tspan>;
  });
}

function TextLine({ line, x, y, to }: { line: string; x: number; y: number; to?: number }) {
  return <text className="page-line" data-to={to} x={x} y={y}>{runs(line)}</text>;
}

export default function App() {
  const chartRef = useRef<SVGGElement>(null);
  const svgRef = useRef<SVGSVGElement>(null);

  useEffect(() => {
    const node = chartRef.current;
    if (!node) return;
    const root = d3.select(node);
    root.selectAll("*").remove();
    PANELS.forEach((p) => drawPanel(root, p));

    // justify the page text by widening the word gaps
    d3.select(svgRef.current).selectAll<SVGTextElement, unknown>("text.page-line").each(function () {
      const to = this.getAttribute("data-to");
      if (!to) return;
      const gaps = (this.textContent || "").split(" ").length - 1;
      const extra = +to - +(this.getAttribute("x") || 0) - this.getComputedTextLength();
      if (gaps > 0) this.setAttribute("word-spacing", String(extra / gaps));
    });
  }, []);

  const bodyY = (i: number) => 1042.3 + i * 21.1;

  return (
    <svg ref={svgRef} width={1080} height={1398} style={{ position: "absolute", left: 0, top: 0, background: "#fff" }}>
      <defs>
        <filter id="soft" x="-5%" y="-5%" width="110%" height="110%"><feGaussianBlur stdDeviation="0.48" /></filter>
        <filter id="softText" x="-2%" y="-2%" width="104%" height="104%"><feGaussianBlur stdDeviation="0.28" /></filter>
      </defs>
      <g ref={chartRef} />
      <g fontFamily={PAGE_FONT} fontSize={17.6} fill="#000" filter="url(#softText)">
        <text x={994} y={56} textAnchor="end" fontSize={11.5}>11</text>
        {[["(a)", 308, 368], ["(a)", 772, 368], ["(b)", 308, 659], ["(b)", 772, 659], ["(c)", 308, 950], ["(c)", 772, 950]].map(([t, x, y], i) => {
          const s = String(t);
          return <text key={i} x={x as number} y={y as number} textAnchor="middle">(<tspan fontStyle="italic">{s[1]}</tspan>)</text>;
        })}
        <g fontSize={16.2}>
          {CAPTION_LEFT.map((l, i) => <TextLine key={l} line={l} x={86.5} y={971 + i * 17.8} to={i === 0 ? 530 : undefined} />)}
          {CAPTION_RIGHT.map((l, i) => <TextLine key={l} line={l} x={550.5} y={971 + i * 17.8} to={i === 0 ? 994 : undefined} />)}
        </g>
        {BODY_LEFT.map((l, i) => <TextLine key={l} line={l} x={86.5} y={bodyY(i)} to={i === BODY_LEFT.length - 1 ? undefined : 530} />)}
        {BODY_RIGHT.map((l, i) => l ? <TextLine key={l} line={l} x={i === 0 ? 585.5 : 550.5} y={bodyY(i)} to={994} /> : null)}
        <TextLine line="is _I_ = _E_ ·" x={550.5} y={bodyY(6)} to={636} />
        <text x={640.5} y={bodyY(6) - 8} fontSize={11} fontStyle="italic">N<tspan fontSize={8} dy={1.5}>c</tspan></text>
        <line x1={640} x2={658} y1={bodyY(6) - 4} y2={bodyY(6) - 4} stroke="#111" strokeWidth={0.6} />
        <text x={649} y={bodyY(6) + 7.5} fontSize={11} fontStyle="italic" textAnchor="middle">B</text>
        <TextLine line=". Parameters _P_ and _Q_ represent the gradient" x={659} y={bodyY(6)} to={994} />
      </g>
    </svg>
  );
}
